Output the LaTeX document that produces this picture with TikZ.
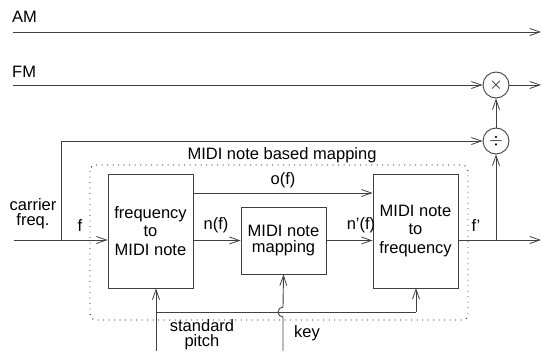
\documentclass[tikz,border=0pt]{standalone}
\usepackage{fontspec}
\setmainfont{Liberation Sans}
\usetikzlibrary{arrows.meta,calc}
\begin{document}
\begin{tikzpicture}[x=1pt,y=-1pt,
  every node/.style={font=\fontsize{16.5}{18}\selectfont, text=black},
  wire/.style={draw=black!75, line width=0.9pt},
  arr/.style={wire, -{Straight Barb[length=10pt,width=7pt,line width=0.8pt]}},
  blockbox/.style={draw=black!75, line width=0.9pt, minimum width=85pt, align=center, inner sep=0pt,
    font=\fontsize{16.5}{18.5}\selectfont},
  opcircle/.style={draw=black!75, line width=0.9pt, circle, minimum size=26pt, inner sep=0pt},
  lbl/.style={inner sep=0pt}
]
\useasboundingbox (0,0) rectangle (541,351);

% dotted group
\draw[black, line width=0.9pt, dash pattern=on 0.9pt off 4.6pt, rounded corners=6pt]
  (90,165) rectangle (468,320);
\node[lbl] (grp) at (282,155) {MIDI note based mapping};

% blocks
\node[blockbox, minimum height=114pt] (b1) at (150.5,231) {frequency\\to\\MIDI note};
\node[blockbox, minimum height=67pt, font=\fontsize{16.5}{16.5}\selectfont] (b2) at (283.5,240.5) {MIDI note\\mapping};
\node[blockbox, minimum height=114pt] (b3) at (415.5,231) {MIDI note\\to\\frequency};

\node[opcircle] (mul) at (496,85) {$\times$};
\node[opcircle] (div) at (496,141) {$\div$};

% AM / FM
\coordinate (amL) at (13,32);
\coordinate (amR) at (541,32);
\coordinate (fmL) at (13,85);
\coordinate (fmR) at (541,85);
\node[lbl, anchor=south west] (amlbl) at (12,23) {AM};
\node[lbl, anchor=south west] (fmlbl) at (12,78) {FM};
\draw[arr] (amL) -- (amR);
\draw[arr] (fmL) -- (mul.west);
\draw[arr] (mul.east) -- (fmR);
\draw[arr] (div.north) -- (mul.south);

% carrier input
\coordinate (cin) at (14,240);
\coordinate (j1) at (61,240);
\node[lbl, align=center, font=\fontsize{16.5}{15}\selectfont] (carr) at (33,214) {carrier\\freq.};
\node[lbl] (flbl) at (80,226) {f};
\draw[arr] (cin) -- (cin -| b1.west);
\draw[arr] (j1) |- (div.west);

% internal connections
\coordinate (oy) at (0,193);
\draw[arr] (b1.east |- oy) -- (b3.west |- oy);
\node[lbl] (oflbl) at (283,180) {o(f)};
\draw[arr] (b1.east |- b2.west) -- (b2.west);
\node[lbl] (nflbl) at (216,225) {n(f)};
\draw[arr] (b2.east) -- (b3.west |- b2.east);
\node[lbl] (npflbl) at (361,225) {n'(f)};

% output
\coordinate (fout) at (541,240);
\coordinate (j2) at (496,240);
\draw[arr] (b3.east |- fout) -- (fout);
\node[lbl] (fplbl) at (476,226) {f'};
\draw[arr] (j2) -- (div.south);

% bottom controls
\coordinate (sp) at (156,351);
\coordinate (hy) at (0,312);
\draw[arr] (sp) -- (sp |- b1.south);
\draw[wire] (sp |- hy) -- (416,312);
\draw[arr] (416,312) -- (416,288);
\coordinate (key) at (283,351);
\draw[arr] (key) -- (283,317) arc[start angle=-90, end angle=-270, radius=5pt] -- (b2.south);
\node[lbl, align=center, font=\fontsize{16.5}{15}\selectfont] (splbl) at (202,335) {standard\\pitch};
\node[lbl] (keylbl) at (307,333) {key};
\end{tikzpicture}
\end{document}
